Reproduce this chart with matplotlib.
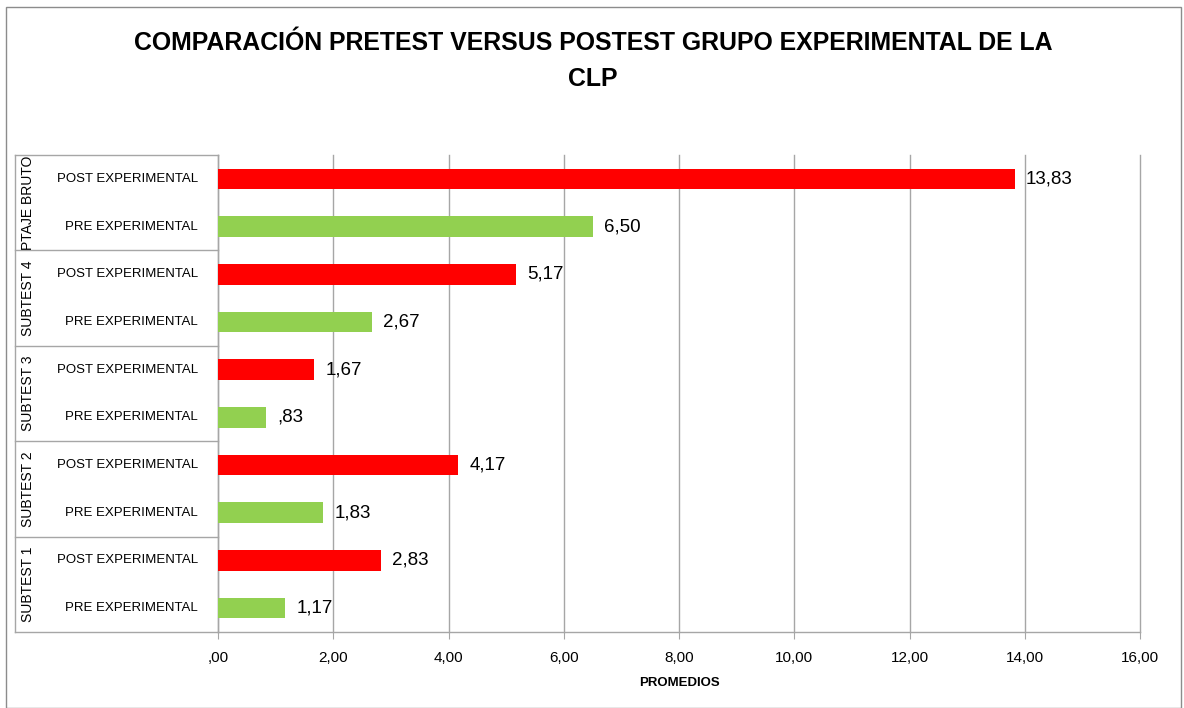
import matplotlib
matplotlib.use("Agg")
import matplotlib.pyplot as plt
from matplotlib import transforms
from matplotlib.patches import Rectangle
from matplotlib.ticker import FuncFormatter

plt.rcParams['font.family'] = ['Liberation Sans Narrow', 'Liberation Sans', 'DejaVu Sans']

groups = ["SUBTEST 1", "SUBTEST 2", "SUBTEST 3", "SUBTEST 4", "PTAJE BRUTO"]
conditions = ["PRE EXPERIMENTAL", "POST EXPERIMENTAL"]
pre_values = [1.17, 1.83, 0.83, 2.67, 6.50]
post_values = [2.83, 4.17, 1.67, 5.17, 13.83]
x_ticks = [0, 2, 4, 6, 8, 10, 12, 14, 16]
title = "COMPARACIÓN PRETEST VERSUS POSTEST GRUPO EXPERIMENTAL DE LA\nCLP"
xlabel = "PROMEDIOS"

RED = "#FF0000"
GREEN = "#92D050"
GRID = "#A6A6A6"


def fmt(v, pos=None):
    s = f"{v:.2f}".replace(".", ",")
    if s.startswith("0,"):
        s = s[1:]
    return s


W, H = 1184, 708
fig = plt.figure(figsize=(W / 100, H / 100), dpi=100)
fig.patch.set_facecolor("white")
fig.patches.append(Rectangle((6 / W, 0), (1181 - 6) / W, 1 - 7 / H, transform=fig.transFigure,
                             fill=False, edgecolor="#8C8C8C", linewidth=1.0))

ax = fig.add_axes([218 / W, 1 - 632 / H, (1140 - 218) / W, (632 - 155) / H])

ypos = []
vals = []
cols = []
labels = []
for gi, g in enumerate(groups):
    ypos += [2 * gi, 2 * gi + 1]
    vals += [pre_values[gi], post_values[gi]]
    cols += [GREEN, RED]
    labels += conditions

ax.barh(ypos, vals, height=0.43, color=cols, zorder=3)
for y, v in zip(ypos, vals):
    ax.annotate(fmt(v), (v, y), xytext=(8, 0), textcoords="offset points",
                va="center", ha="left", fontsize=13.5, color="black",
                family=['Liberation Sans', 'DejaVu Sans'])

ax.set_xlim(0, 16)
ax.set_ylim(-0.5, len(ypos) - 0.5)
ax.set_xticks(x_ticks)
ax.xaxis.set_major_formatter(FuncFormatter(fmt))
ax.grid(axis="x", color=GRID, linewidth=1.0, zorder=0)
ax.set_axisbelow(True)
for gl in ax.xaxis.get_gridlines():
    gl.set_clip_on(False)
for s in ["top", "right"]:
    ax.spines[s].set_visible(False)
for s in ["left", "bottom"]:
    ax.spines[s].set_color(GRID)
    ax.spines[s].set_linewidth(1.0)
ax.tick_params(axis="x", length=5, color=GRID, labelsize=11, pad=9)
ax.set_yticks([])
for lab in ax.get_xticklabels():
    lab.set_family(['Liberation Sans', 'DejaVu Sans'])
ax.set_xlabel(xlabel, fontsize=9.5, fontweight="bold", labelpad=8,
              family=['Liberation Sans', 'DejaVu Sans'])

# two-level category axis
trans = transforms.blended_transform_factory(ax.transAxes, ax.transData)
x_left = (15 - 218) / (1140 - 218)
x_cond = (198 - 218) / (1140 - 218)
x_grp = (28 - 218) / (1140 - 218)
for y, lab in zip(ypos, labels):
    ax.text(x_cond, y, lab, transform=trans, ha="right", va="center", fontsize=9.5)
for gi, g in enumerate(groups):
    ax.text(x_grp, 2 * gi + 0.5, g, transform=trans, ha="center", va="center",
            rotation=90, fontsize=10)
for b in [-0.5 + 2 * k for k in range(len(groups) + 1)]:
    ax.plot([x_left, 0], [b, b], transform=trans, color=GRID, linewidth=1.0, clip_on=False)
ax.plot([x_left, x_left], [-0.5, len(ypos) - 0.5], transform=trans, color=GRID,
        linewidth=1.0, clip_on=False)

fig.text(593 / W, 1 - 61 / H, title, ha="center", va="center", fontsize=17.9,
         fontweight="bold", linespacing=1.65)

fig.savefig("out.png", dpi=100, facecolor="white")
